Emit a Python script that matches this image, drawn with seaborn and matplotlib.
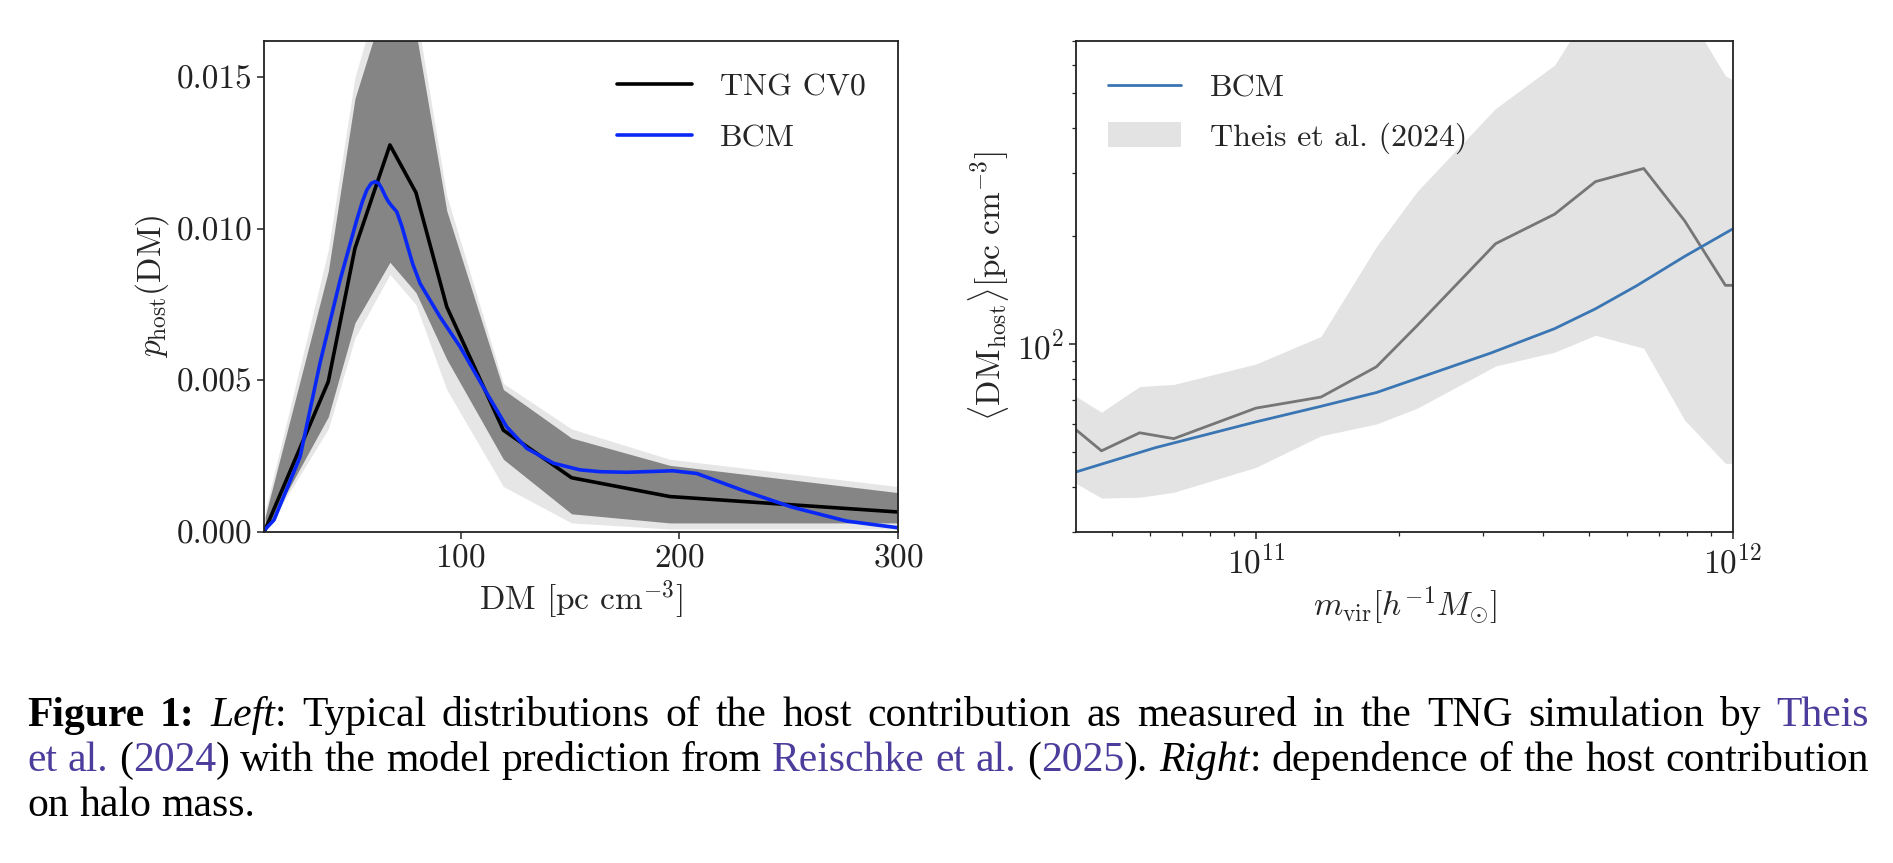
import matplotlib
matplotlib.use('Agg')
import matplotlib.pyplot as plt
import seaborn as sns
from matplotlib.patches import Patch
from matplotlib.lines import Line2D
from matplotlib.ticker import NullFormatter

# ---- left panel: p_host(DM) ----
dm_bins = [10.5, 39.4, 51.6, 67.6, 79.5, 93.6, 119.5, 150.7, 195.6, 300.0]
p_tng = [0.00007, 0.00496, 0.00936, 0.01277, 0.0112, 0.00743, 0.00336, 0.00179, 0.00117, 0.00066]
# envelope of the individual TNG realisations (dense core and faint outliers)
core_hi = [0.0005, 0.0086, 0.0143, 0.0180, 0.0165, 0.0106, 0.0047, 0.0031, 0.0022, 0.0013]
core_lo = [0.0, 0.0038, 0.0069, 0.0089, 0.0079, 0.0057, 0.0024, 0.0006, 0.0003, 0.0003]
faint_hi = [0.0007, 0.0093, 0.0150, 0.0190, 0.0172, 0.0111, 0.0049, 0.0034, 0.0024, 0.0015]
faint_lo = [0.0, 0.0034, 0.0064, 0.0085, 0.0075, 0.0047, 0.0015, 0.0003, 0.0001, 0.0001]

dm_bcm = [10.7, 14.6, 26.5, 35.6, 44.8, 52.4, 55.0, 57.0, 59.0, 60.8, 62.5, 63.8, 65.5,
          66.9, 68.5, 70.7, 73.0, 75.3, 78.0, 81.4, 85.5, 90.5, 99.7, 111.9, 121.0, 130.2,
          142.4, 154.5, 163.7, 176.0, 197.0, 208.0, 231.0, 251.5, 276.5, 300.0]
p_bcm = [0.0001, 0.0004, 0.00248, 0.00557, 0.00831, 0.01029, 0.01090, 0.01128, 0.01150,
         0.01156, 0.01150, 0.01134, 0.01108, 0.0109, 0.01075, 0.01057, 0.01010, 0.00952,
         0.00885, 0.0082, 0.00770, 0.0071, 0.00611, 0.00458, 0.00347, 0.00276, 0.00227,
         0.00205, 0.00199, 0.00197, 0.00202, 0.00193, 0.00132, 0.00082, 0.00036, 0.00014]

# ---- right panel: <DM_host> vs halo mass ----
m_tng = [4.2e10, 4.75e10, 5.71e10, 6.73e10, 1.0e11, 1.37e11, 1.79e11, 2.18e11, 3.18e11,
         4.23e11, 5.15e11, 6.5e11, 7.92e11, 9.64e11, 1.0e12]
dm_tng = [57.8, 50.5, 56.7, 54.6, 66.4, 71.3, 86.6, 112.9, 190.7, 230.5, 284, 309, 220.8, 146, 146]
tng_lo = [41.0, 37.3, 37.5, 38.7, 45.4, 55.6, 60.0, 66.4, 87.0, 95.1, 106, 97.5, 61.5, 46.6, 46.6]
tng_hi = [71.6, 64.7, 76.3, 77.3, 88.1, 105.2, 187.3, 267, 454, 600, 910, 1000, 863, 560, 545]

m_bcm = [4.2e10, 6.15e10, 1.0e11, 1.37e11, 1.79e11, 3.11e11, 4.23e11, 5.15e11, 6.27e11, 7.92e11, 1.0e12]
dm_bcm_r = [44.1, 51.5, 60.8, 67.2, 73.4, 94.6, 110.6, 125.6, 145.4, 175.8, 209.9]

# ---- caption ----
LINK = '#4c3d9c'
caption_lines = [
    [[('b', 'Figure')], [('b', '1:')], [('i', 'Left'), ('n', ':')], 'Typical', 'distributions',
     'of', 'the', 'host', 'contribution', 'as', 'measured', 'in', 'the', 'TNG', 'simulation',
     'by', [('c', 'Theis')]],
    [[('c', 'et')], [('c', 'al.')], [('n', '('), ('c', '2024'), ('n', ')')], 'with', 'the',
     'model', 'prediction', 'from', [('c', 'Reischke')], [('c', 'et')], [('c', 'al.')],
     [('n', '('), ('c', '2025'), ('n', ').')], [('i', 'Right'), ('n', ':')], 'dependence',
     'of', 'the', 'host', 'contribution'],
    ['on', 'halo', 'mass.'],
]

sns.set_style('ticks')
plt.rcParams.update({
    'font.family': 'cmr10',
    'mathtext.fontset': 'cm',
    'axes.formatter.use_mathtext': True,
    'axes.unicode_minus': False,
    'font.size': 24,
    'axes.linewidth': 1.3,
    'axes.edgecolor': '#222222',
    'xtick.major.size': 5, 'ytick.major.size': 5,
    'xtick.minor.size': 3, 'ytick.minor.size': 3,
    'xtick.major.width': 1.1, 'ytick.major.width': 1.1,
    'xtick.minor.width': 0.9, 'ytick.minor.width': 0.9,
    'xtick.color': '#222222', 'ytick.color': '#222222',
})

fig = plt.figure(figsize=(18.93, 8.63), dpi=100)
ax1 = fig.add_axes([264 / 1893, 331 / 863, 634 / 1893, 491 / 863])
ax2 = fig.add_axes([1076 / 1893, 331 / 863, 657 / 1893, 491 / 863])

# left
ax1.fill_between(dm_bins, faint_lo, faint_hi, color='#e6e6e6', lw=0)
ax1.fill_between(dm_bins, core_lo, core_hi, color='#858585', lw=0)
sns.lineplot(x=dm_bins, y=p_tng, color='black', lw=2.6, ax=ax1, sort=False, estimator=None)
sns.lineplot(x=dm_bcm, y=p_bcm, color='#0a28f5', lw=2.6, ax=ax1, sort=False, estimator=None)
ax1.set_xlim(10, 300)
ax1.set_ylim(0, 0.0162)
ax1.set_xticks([100, 200, 300])
ax1.set_yticks([0, 0.005, 0.010, 0.015])
ax1.set_yticklabels(['0.000', '0.005', '0.010', '0.015'])
ax1.set_xlabel(r'DM [pc cm$^{-3}$]')
ax1.set_ylabel(r'$p_{\rm host}(\mathrm{DM})$')
ax1.legend(handles=[Line2D([], [], color='black', lw=2.6, label='TNG CV0'),
                    Line2D([], [], color='#0a28f5', lw=2.6, label='BCM')],
           loc='upper right', frameon=False, fontsize=23, handlelength=2.35,
           handletextpad=0.88, labelspacing=0.72, borderaxespad=0.6)

# right
ax2.fill_between(m_tng, tng_lo, tng_hi, color='#e3e3e3', lw=0)
sns.lineplot(x=m_tng, y=dm_tng, color='#767676', lw=2.0, ax=ax2, sort=False, estimator=None)
sns.lineplot(x=m_bcm, y=dm_bcm_r, color='#3a76b3', lw=2.0, ax=ax2, sort=False, estimator=None)
ax2.set_xscale('log')
ax2.set_yscale('log')
ax2.set_xlim(4.2e10, 1e12)
ax2.set_ylim(30, 700)
ax2.yaxis.set_minor_formatter(NullFormatter())
ax2.xaxis.set_minor_formatter(NullFormatter())
ax2.set_xlabel(r'$m_{\rm vir}[h^{-1}M_{\odot}]$')
ax2.set_ylabel(r'$\langle\mathrm{DM_{host}}\rangle[\mathrm{pc\ cm^{-3}}]$')
ax2.legend(handles=[Line2D([], [], color='#3a76b3', lw=2.0, label='BCM'),
                    Patch(facecolor='#e3e3e3', edgecolor='none', label='Theis et al. (2024)')],
           loc='upper left', frameon=False, fontsize=23, handlelength=2.3,
           handleheight=0.8, handletextpad=0.88, labelspacing=0.62, borderaxespad=0.6)

for ax in (ax1, ax2):
    ax.tick_params(labelsize=24, direction='out')

# caption, set as justified text like the paper
styles = {
    'n': dict(color='black'),
    'b': dict(color='black', fontweight='bold'),
    'i': dict(color='black', fontstyle='italic'),
    'c': dict(color=LINK),
}
cap_fs = 30
fig.canvas.draw()
renderer = fig.canvas.get_renderer()
W = fig.bbox.width
left_px, right_px = 27, 1869
baselines = [726, 771, 816]
for i, words in enumerate(caption_lines):
    y = 1 - baselines[i] / 863
    items = []
    for w in words:
        segs = [('n', w)] if isinstance(w, str) else w
        made = []
        for style, s in segs:
            t = fig.text(0, y, s, family='Liberation Serif', fontsize=cap_fs,
                         va='baseline', ha='left', **styles[style])
            made.append((t, t.get_window_extent(renderer).width))
        items.append(made)
    total = sum(wd for made in items for _, wd in made)
    if i < len(caption_lines) - 1:
        gap = (right_px - left_px - total) / (len(items) - 1)
    else:
        gap = cap_fs * 0.25 * 100 / 72
    x = left_px
    for made in items:
        for t, wd in made:
            t.set_x(x / W)
            x += wd
        x += gap

fig.savefig('out.png', dpi=100)
